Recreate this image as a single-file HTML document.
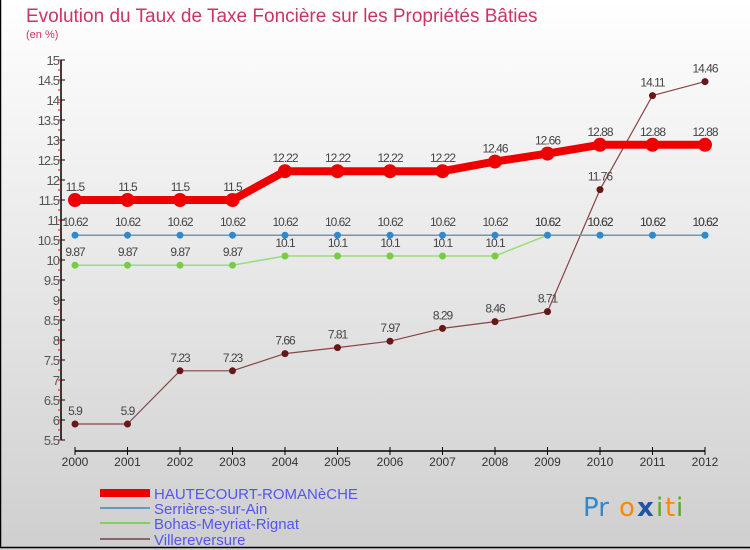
<!DOCTYPE html>
<html><head><meta charset="utf-8"><style>
body{margin:0;width:750px;height:550px;overflow:hidden;font-family:"Liberation Sans",sans-serif}
svg{display:block}
</style></head><body>
<svg width="750" height="550" xmlns="http://www.w3.org/2000/svg">
<defs><linearGradient id="bg" x1="0" y1="0" x2="0" y2="1"><stop offset="0" stop-color="#ffffff"/><stop offset="1" stop-color="#cfcfcf"/></linearGradient></defs>
<rect width="750" height="550" fill="url(#bg)"/>
<rect x="0.5" y="-2" width="752" height="549.5" fill="none" stroke="#000" stroke-width="1.5"/>
<text x="26" y="22" font-size="19" fill="#cc3366">Evolution du Taux de Taxe Foncière sur les Propriétés Bâties</text>
<text x="26" y="38" font-size="11" fill="#cc3366">(en %)</text>
<g id="axes"></g><g id="series"></g>
<g>
<rect x="100" y="489" width="50" height="8" fill="#e00"/>
<text x="154" y="499" font-size="15" fill="#5555ee">HAUTECOURT-ROMANèCHE</text>
<line x1="100" y1="508" x2="150" y2="508" stroke="#6699bb" stroke-width="2"/>
<text x="154" y="514" font-size="15" fill="#5555ee">Serrières-sur-Ain</text>
<line x1="100" y1="523" x2="150" y2="523" stroke="#88cc66" stroke-width="2"/>
<text x="154" y="529" font-size="15" fill="#5555ee">Bohas-Meyriat-Rignat</text>
<line x1="100" y1="539" x2="150" y2="539" stroke="#886666" stroke-width="2"/>
<text x="154" y="545" font-size="15" fill="#5555ee">Villereversure</text>
</g>
<g font-size="26" font-family="'DejaVu Sans',sans-serif">
<text x="583" y="516" fill="#3388cc">Pr</text><text x="619" y="516" fill="#ff8800">o</text><text x="637" y="516" fill="#2255aa" font-weight="bold">x</text><text x="656" y="516" fill="#55aa22">i</text><text x="665" y="516" fill="#ff8800">t</text><text x="676" y="516" fill="#55aa22">i</text>
</g>
</svg>
<script>
const years=[2000,2001,2002,2003,2004,2005,2006,2007,2008,2009,2010,2011,2012];
const hautecourt=[11.5,11.5,11.5,11.5,12.22,12.22,12.22,12.22,12.46,12.66,12.88,12.88,12.88];
const serrieres=[10.62,10.62,10.62,10.62,10.62,10.62,10.62,10.62,10.62,10.62,10.62,10.62,10.62];
const bohas=[9.87,9.87,9.87,9.87,10.1,10.1,10.1,10.1,10.1,10.62,10.62,10.62,10.62];
const villereversure=[5.9,5.9,7.23,7.23,7.66,7.81,7.97,8.29,8.46,8.71,11.76,14.11,14.46];
const yTicks=[5.5,6,6.5,7,7.5,8,8.5,9,9.5,10,10.5,11,11.5,12,12.5,13,13.5,14,14.5,15];
const NS="http://www.w3.org/2000/svg";
const X=i=>75+i*52.5;
const Y=v=>440-(v-5.5)*(380/9.5);
function mk(p,t,a){const e=document.createElementNS(NS,t);for(const k in a)e.setAttribute(k,a[k]);p.appendChild(e);return e;}
const ax=document.getElementById('axes');
const yl=mk(ax,'line',{x1:61,y1:Y(15),x2:61,y2:Y(5.5),stroke:'#000','stroke-width':1.5});


yTicks.forEach((v,k)=>{
  mk(ax,'line',{x1:61,y1:Y(v),x2:65,y2:Y(v),stroke:'#000'});
  if(k<yTicks.length-1) mk(ax,'line',{x1:58,y1:Y(v+0.25),x2:61,y2:Y(v+0.25),stroke:'#e00'});
  mk(ax,'line',{x1:58,y1:Y(v),x2:61,y2:Y(v),stroke:'#e00'});
  const t=mk(ax,'text',{x:59,y:Y(v)+5,'font-size':13,fill:'#555','text-anchor':'end','letter-spacing':'-1'});
  t.textContent=String(v);
  
  
});
const xl=mk(ax,'line',{x1:X(0),y1:451,x2:X(12),y2:451,stroke:'#000','stroke-width':1.5});


years.forEach((y,i)=>{
  mk(ax,'line',{x1:X(i),y1:447,x2:X(i),y2:455,stroke:'#000'});
  const t=mk(ax,'text',{x:X(i),y:466,'font-size':12,fill:'#333','text-anchor':'middle'});
  t.textContent=y;
  
  
});
const sg=document.getElementById('series');
function draw(data,color,dot,w,r,name){
  const g=mk(sg,'g',{});
  
  
  mk(g,'polyline',{points:data.map((v,i)=>X(i)+','+Y(v)).join(' '),fill:'none',stroke:color,'stroke-width':w,'stroke-linejoin':'round'});
  data.forEach((v,i)=>{
    const c=mk(g,'circle',{cx:X(i),cy:Y(v),r:r,fill:dot});
    
    
    const t=mk(g,'text',{x:X(i),y:Y(v)-9,'font-size':12,fill:'#444','text-anchor':'middle','letter-spacing':'-1'});
    t.textContent=String(v);
    
    
  });
}
draw(villereversure,'#884444','#661818',1.2,3.5,'villereversure');
draw(bohas,'#99dd77','#77cc44',1.5,3.5,'bohas');
draw(serrieres,'#6699bb','#3388cc',1.5,3.5,'serrieres');
draw(hautecourt,'#ee0000','#ee0000',8,7,'hautecourt');
</script>
</body></html>
